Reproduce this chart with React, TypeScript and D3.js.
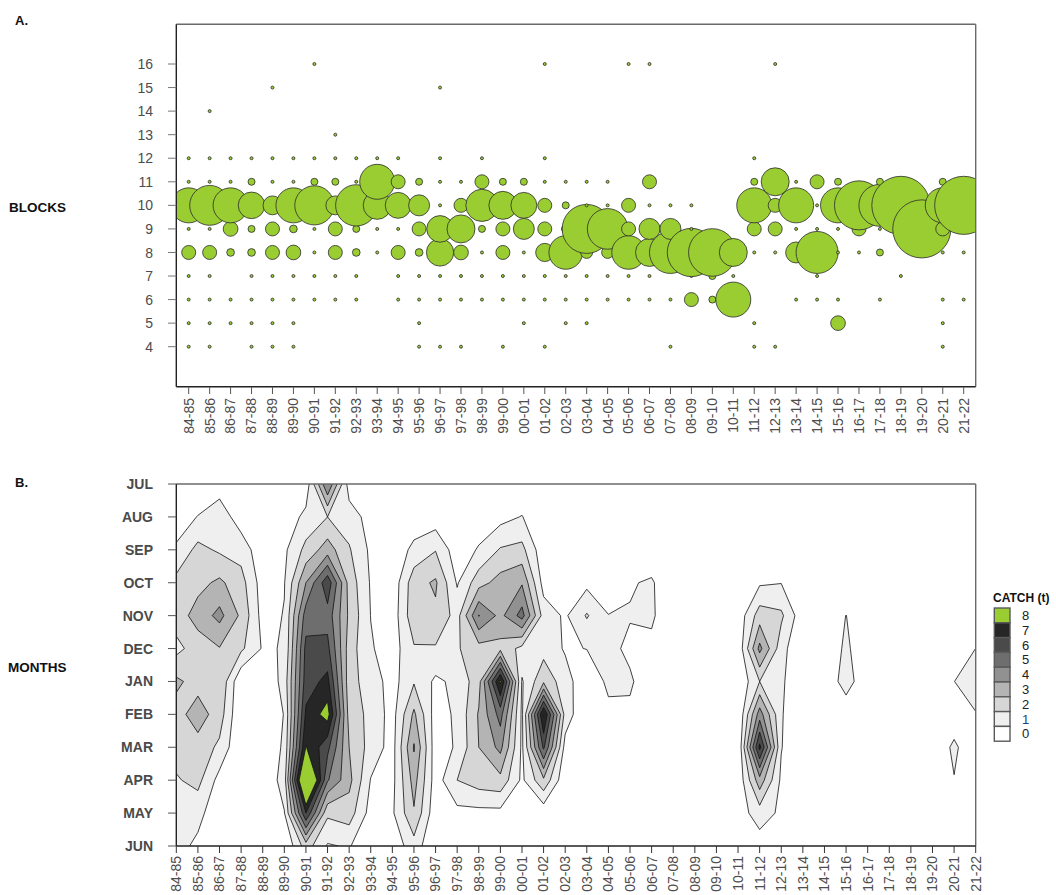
import React from "react";
import * as d3 from "d3";

// Fishing seasons (x axis of both panels)
const seasons = [
  "84-85", "85-86", "86-87", "87-88", "88-89", "89-90", "90-91", "91-92", "92-93", "93-94",
  "94-95", "95-96", "96-97", "97-98", "98-99", "99-00", "00-01", "01-02", "02-03", "03-04",
  "04-05", "05-06", "06-07", "07-08", "08-09", "09-10", "10-11", "11-12", "12-13", "13-14",
  "14-15", "15-16", "16-17", "17-18", "18-19", "19-20", "20-21", "21-22",
];

const blockTicks = [4, 5, 6, 7, 8, 9, 10, 11, 12, 13, 14, 15, 16];

// Catch per block and season (t); 0 = block not fished that season
const block4 = [.4, .4, 0, .4, .4, .4, 0, 0, 0, 0, 0, .4, .4, .4, 0, .4, 0, .4, 0, 0, 0, 0, 0, .4, 0, 0, 0, .4, .4, 0, 0, 0, 0, 0, 0, 0, .4, 0];
const block5 = [.4, .4, .4, .4, .4, .4, 0, 0, 0, 0, 0, .4, 0, 0, 0, 0, .4, 0, .4, .4, 0, 0, 0, 0, 0, 0, 0, .4, 0, 0, 0, 2.1, 0, 0, 0, 0, .4, 0];
const block6 = [.4, .4, .4, .4, .4, .4, .4, .4, .4, 0, .4, .4, .4, .4, .4, .4, .4, .4, .4, .4, .4, .4, .4, .4, 2, 1, 5, 0, 0, .4, .4, .4, 0, .4, 0, 0, .4, .4];
const block7 = [.4, .4, 0, .4, .4, .4, .4, .4, .4, 0, .4, .4, .4, .4, .4, .4, .4, .4, .4, .4, .4, .4, .4, 0, .4, 1, .4, 0, 0, 0, .4, 0, 0, 0, .4, 0, 0, 0];
const block8 = [2, 2, 1.1, 1.1, 2, 2.1, .4, 2, 1.1, .4, 2, 1.1, 3.9, 2.1, .4, 2, .4, 2.6, 4.8, 1.7, 1.7, 4.8, 4, 6, 6.9, 6.8, 4, .4, .4, 3, 6, .4, .4, 1, 0, 0, .4, .4];
const block9 = [.4, .4, 2.1, 1, 2, 1.1, .4, 2, 1, .4, .4, 2, 3.8, 4, 1, 2, 3, 2, 1.2, 7, 5.8, 2, 3, 3, .4, 0, 0, 2, 2, .4, .4, .4, 2, .4, 0, 8.3, 2, 0];
const block10 = [5, 5.7, 5, 3.8, 2.7, 5, 5.6, 2.7, 5.9, 4, 3.7, 3, .4, 2, 4.6, 4, 3.7, 2, 1, .4, .4, 2, .4, .4, .4, 0, 0, 5, 2, 5, .4, 5, 7, 6, 8.3, 0, 5, 8.3];
const block11 = [.4, .4, .4, 1, .4, .4, 1, 1, .4, 5, 2, 1, .4, .4, 2, 1, 1, .4, .4, .4, .4, 0, 2, 0, 0, 0, 0, 1, 4, .4, 2, 1, 0, 1, 0, 0, 1, 0];
const block12 = [.4, .4, .4, .4, .4, .4, .4, .4, .4, .4, .4, 0, .4, 0, .4, 0, 0, .4, 0, 0, 0, 0, 0, 0, 0, 0, 0, .4, 0, 0, 0, 0, 0, 0, 0, 0, 0, 0];
const block13 = [0, 0, 0, 0, 0, 0, 0, .4, 0, 0, 0, 0, 0, 0, 0, 0, 0, 0, 0, 0, 0, 0, 0, 0, 0, 0, 0, 0, 0, 0, 0, 0, 0, 0, 0, 0, 0, 0];
const block14 = [0, .4, 0, 0, 0, 0, 0, 0, 0, 0, 0, 0, 0, 0, 0, 0, 0, 0, 0, 0, 0, 0, 0, 0, 0, 0, 0, 0, 0, 0, 0, 0, 0, 0, 0, 0, 0, 0];
const block15 = [0, 0, 0, 0, .4, 0, 0, 0, 0, 0, 0, 0, .4, 0, 0, 0, 0, 0, 0, 0, 0, 0, 0, 0, 0, 0, 0, 0, 0, 0, 0, 0, 0, 0, 0, 0, 0, 0];
const block16 = [0, 0, 0, 0, 0, 0, .4, 0, 0, 0, 0, 0, 0, 0, 0, 0, 0, .4, 0, 0, 0, .4, .4, 0, 0, 0, 0, 0, .4, 0, 0, 0, 0, 0, 0, 0, 0, 0];

const blockSeries: [number, number[]][] = [
  [4, block4], [5, block5], [6, block6], [7, block7], [8, block8], [9, block9], [10, block10],
  [11, block11], [12, block12], [13, block13], [14, block14], [15, block15], [16, block16],
];

// Months of the season, top to bottom in panel B
const months = ["JUL", "AUG", "SEP", "OCT", "NOV", "DEC", "JAN", "FEB", "MAR", "APR", "MAY", "JUN"];

// Monthly catch (t) per season
const catchJul = [0, 0, 0.5, 0, 0, 0, 0.3, 5.0, 0.5, 0, 0, 0, 0, 0, 0, 0, 0, 0, 0, 0, 0, 0, 0, 0, 0, 0, 0, 0, 0, 0, 0, 0, 0, 0, 0, 0, 0, 0];
const catchAug = [0.3, 1.05, 1.6, 0.45, 0, 0.3, 1.3, 2.0, 1.5, 0.6, 0, 0.3, 0.4, 0, 0.4, 0.65, 1.05, 0, 0, 0, 0, 0, 0, 0, 0, 0, 0, 0, 0, 0, 0, 0, 0, 0, 0, 0, 0, 0];
const catchSep = [1.2, 2.3, 1.85, 1.6, 0.3, 0.8, 2.3, 3.5, 2.1, 0.8, 0.2, 1.3, 1.95, 0.4, 1.1, 2.1, 2.3, 0.3, 0, 0, 0.1, 0.2, 0.2, 0, 0, 0, 0, 0, 0, 0, 0, 0, 0, 0, 0, 0, 0, 0];
const catchOct = [2.3, 2.7, 3.2, 2.4, 0.5, 0.95, 4.0, 6.7, 2.6, 0.9, 0.3, 2.6, 3.15, 0.9, 2.6, 3.4, 3.9, 0.6, 0.3, 0.73, 0.5, 0.9, 1.15, 0, 0, 0, 0, 0.85, 0.97, 0, 0, 0, 0, 0, 0, 0, 0, 0];
const catchNov = [2.5, 3.4, 4.3, 2.8, 0.6, 1.05, 5.5, 5.6, 2.8, 0.98, 0.4, 2.7, 2.8, 1.6, 5.05, 3.7, 5.4, 1.55, 0.85, 2.1, 1.02, 1.07, 1.2, 0, 0, 0, 0.33, 2.5, 2.2, 0.3, 0, 1.02, 0, 0, 0, 0, 0, 0];
const catchDec = [1.7, 2.5, 2.95, 2.2, 0.9, 1.05, 6.3, 6.3, 2.5, 1.1, 0.5, 1.9, 1.9, 1.9, 2.6, 2.7, 1.7, 1.6, 0.9, 1.02, 1.3, 0.77, 0.7, 0, 0, 0, 0.2, 4.3, 1.4, 0, 0, 1.25, 0, 0, 0, 0, 0, 1.01];
const catchJan = [3.2, 2.6, 2.9, 0.1, 0, 1.4, 6.5, 7.3, 2.4, 1.5, 0.6, 1.9, 0.8, 1.25, 2.6, 8.2, 0.9, 2.8, 1.4, 0.3, 1.2, 1.15, 0.3, 0, 0, 0, 0.1, 2.0, 1.2, 0, 0, 1.6, 0, 0, 0, 0, 0.99, 1.5];
const catchFeb = [2.6, 3.5, 2.5, 0, 0, 1.05, 7.2, 8.45, 2.6, 1.7, 0.6, 3.2, 0.5, 1.2, 3.1, 5.4, 0.8, 8.1, 1.6, 0, 0.77, 0.8, 0, 0, 0, 0, 0, 4.5, 1.1, 0, 0, 0.15, 0, 0, 0, 0, 0.2, 0.95];
const catchMar = [2.4, 2.6, 1.8, 0, 0, 1.2, 8.05, 6.3, 3.0, 1.6, 0.6, 4.1, 0.4, 1.15, 3.0, 4.3, 0.8, 6.2, 0.6, 0, 0.1, 0.2, 0, 0, 0, 0, 0, 7.3, 1.05, 0, 0, 0, 0, 0, 0, 0, 1.25, 0];
const catchApr = [1.9, 2.3, 0.63, 0, 0, 1.5, 11.0, 5.1, 3.3, 0.95, 0.7, 3.4, 0.5, 2.0, 2.5, 2.7, 0.8, 2.8, 0.2, 0, 0, 0, 0, 0, 0, 0, 0.2, 3.6, 0.8, 0, 0, 0, 0, 0, 0, 0, 0.95, 0];
const catchMay = [1.6, 1.35, 0.2, 0, 0, 0.95, 7.0, 2.2, 2.5, 0.6, 0.85, 2.9, 0.3, 0.7, 0.7, 0.7, 0.3, 0.3, 0, 0, 0, 0, 0, 0, 0, 0, 0.5, 1.5, 0.8, 0, 0, 0, 0, 0, 0, 0, 0, 0];
const catchJun = [1.4, 0.75, 0, 0, 0, 0, 2.5, 0.9, 1.1, 0, 0.3, 1.6, 0, 0, 0, 0, 0, 0, 0, 0, 0, 0, 0, 0, 0, 0, 0, 0.5, 0, 0, 0, 0, 0, 0, 0, 0, 0, 0];

const monthSeries = [catchJul, catchAug, catchSep, catchOct, catchNov, catchDec, catchJan, catchFeb, catchMar, catchApr, catchMay, catchJun];

// Catch classes of the filled contour key
const catchLevels = [0, 1, 2, 3, 4, 5, 6, 7, 8];
const levelColors = ["#ffffff", "#efefef", "#d6d6d6", "#b4b4b4", "#919191", "#6e6e6e", "#4a4a4a", "#262626", "#9acd32"];

const FONT = "'Liberation Sans', Arial, Helvetica, sans-serif";
const GREEN = "#9acd32";

export default function App() {
  // ---------- panel A: bubbles by block ----------
  const aLeft = 176.3, aRight = 975.7, aTop = 24.3, aBottom = 386.7;
  const xA = d3.scalePoint<string>().domain(seasons).range([188.7, 963.7]);
  const yA = d3.scaleLinear().domain([4, 16]).range([346.7, 64]);
  const rA = d3.scaleLinear().domain([0, 8]).range([0, 28]);

  const bubbles: { key: string; cx: number; cy: number; r: number }[] = [];
  seasons.forEach((s, i) => {
    blockSeries.forEach(([b, vals]) => {
      const v = vals[i];
      if (v > 0) bubbles.push({ key: `${s}-${b}`, cx: xA(s)!, cy: yA(b), r: Math.max(rA(v), 1.5) });
    });
  });

  // ---------- panel B: filled contours by month ----------
  const bLeft = 176.3, bRight = 975.7, bTop = 484, bBottom = 846;
  const xB = d3.scalePoint<string>().domain(seasons).range([bLeft, bRight]);
  const yB = d3.scalePoint<string>().domain(months).range([bTop, bBottom]);
  const nx = seasons.length, ny = months.length;
  const grid: number[] = [];
  monthSeries.forEach((row) => row.forEach((v) => grid.push(v)));
  const contours = d3.contours().size([nx, ny]).thresholds(catchLevels.slice(1))(grid);
  const stepX = xB.step(), stepY = yB.step();
  const gridToScreen = d3.geoTransform({
    point(x: number, y: number) {
      (this as any).stream.point(bLeft + (x - 0.5) * stepX, bTop + (y - 0.5) * stepY);
    },
  });
  const contourPath = d3.geoPath(gridToScreen);

  // ---------- legend ----------
  const keyX = 994.3, keyW = 15.7, keyTop = 608, keyH = 14.8;

  return (
    <svg width={1056} height={895} style={{ position: "absolute", left: 0, top: 0, background: "#fff" }} fontFamily={FONT}>
      <defs>
        <clipPath id="clipA"><rect x={aLeft} y={aTop} width={aRight - aLeft} height={aBottom - aTop} /></clipPath>
        <clipPath id="clipB"><rect x={bLeft} y={bTop} width={bRight - bLeft} height={bBottom - bTop} /></clipPath>
      </defs>
      <rect x={0} y={0} width={1056} height={895} fill="#fff" />

      {/* Panel A */}
      <text x={15} y={25} fontSize={13} fontWeight="bold" fill="#111">A.</text>
      <text x={9} y={212} fontSize={13.5} fontWeight="bold" fill="#111">BLOCKS</text>
      <g clipPath="url(#clipA)">
        {bubbles.map((d) => (
          <circle key={d.key} cx={d.cx} cy={d.cy} r={d.r} fill={GREEN} stroke="#2b2b2b" strokeWidth={0.8} />
        ))}
      </g>
      <line x1={aLeft} x2={aRight} y1={aTop} y2={aTop} stroke="#6a6a6a" strokeWidth={1.6} />
      <line x1={aRight} x2={aRight} y1={aTop} y2={aBottom} stroke="#6a6a6a" strokeWidth={1.4} />
      <line x1={aLeft} x2={aLeft} y1={aTop} y2={aBottom} stroke="#222" strokeWidth={1.4} />
      <line x1={aLeft} x2={aRight} y1={aBottom} y2={aBottom} stroke="#222" strokeWidth={1.6} />
      {blockTicks.map((b) => (
        <g key={`yt${b}`}>
          <line x1={168} x2={aLeft} y1={yA(b)} y2={yA(b)} stroke="#777" strokeWidth={1} />
          <text x={153} y={yA(b)} dy="0.36em" textAnchor="end" fontSize={14} fill="#4d4d4d">{b}</text>
        </g>
      ))}
      {seasons.map((s) => (
        <g key={`xa${s}`}>
          <line x1={xA(s)!} x2={xA(s)!} y1={aBottom} y2={394} stroke="#555" strokeWidth={1} />
          <text transform={`translate(${xA(s)},398) rotate(-90)`} textAnchor="end" dy="0.35em" fontSize={14} fill="#4d4d4d">{s}</text>
        </g>
      ))}

      {/* Panel B */}
      <text x={15} y={487} fontSize={13} fontWeight="bold" fill="#111">B.</text>
      <text x={8} y={672} fontSize={13.5} fontWeight="bold" fill="#111">MONTHS</text>
      <g clipPath="url(#clipB)">
        <rect x={bLeft} y={bTop} width={bRight - bLeft} height={bBottom - bTop} fill={levelColors[0]} />
        {contours.map((c) => (
          <path key={`c${c.value}`} d={contourPath(c as any) || ""} fill={levelColors[catchLevels.indexOf(c.value)]} stroke="#111" strokeWidth={0.8} strokeLinejoin="round" />
        ))}
      </g>
      <line x1={bLeft} x2={bRight} y1={bTop} y2={bTop} stroke="#6a6a6a" strokeWidth={1.6} />
      <line x1={bRight} x2={bRight} y1={bTop} y2={bBottom} stroke="#6a6a6a" strokeWidth={1.4} />
      <line x1={bLeft} x2={bLeft} y1={bTop} y2={bBottom} stroke="#222" strokeWidth={1.4} />
      <line x1={bLeft} x2={bRight} y1={bBottom} y2={bBottom} stroke="#222" strokeWidth={1.6} />
      {months.map((m) => (
        <g key={`yb${m}`}>
          <line x1={168} x2={bLeft} y1={yB(m)!} y2={yB(m)!} stroke="#555" strokeWidth={1} />
          <text x={153} y={yB(m)!} dy="0.36em" textAnchor="end" fontSize={14} fontWeight="bold" fill="#4a4a4a">{m}</text>
        </g>
      ))}
      {seasons.map((s) => (
        <g key={`xb${s}`}>
          <line x1={xB(s)!} x2={xB(s)!} y1={bBottom} y2={853} stroke="#333" strokeWidth={1} />
          <text transform={`translate(${xB(s)},856) rotate(-90)`} textAnchor="end" dy="0.35em" fontSize={14} fill="#4d4d4d">{s}</text>
        </g>
      ))}

      {/* Catch key */}
      <text x={993} y={602} fontSize={12} fontWeight="bold" fill="#111">CATCH (t)</text>
      {catchLevels.slice().reverse().map((lv, k) => (
        <g key={`key${lv}`}>
          <rect x={keyX} y={keyTop + k * keyH} width={keyW} height={keyH} fill={levelColors[lv]} stroke="#5a5a5a" strokeWidth={1.4} />
          <text x={1022} y={keyTop + k * keyH + keyH / 2} dy="0.36em" fontSize={13} fill={lv === 1 ? "#1f3f75" : "#222"}>{lv}</text>
        </g>
      ))}
    </svg>
  );
}
